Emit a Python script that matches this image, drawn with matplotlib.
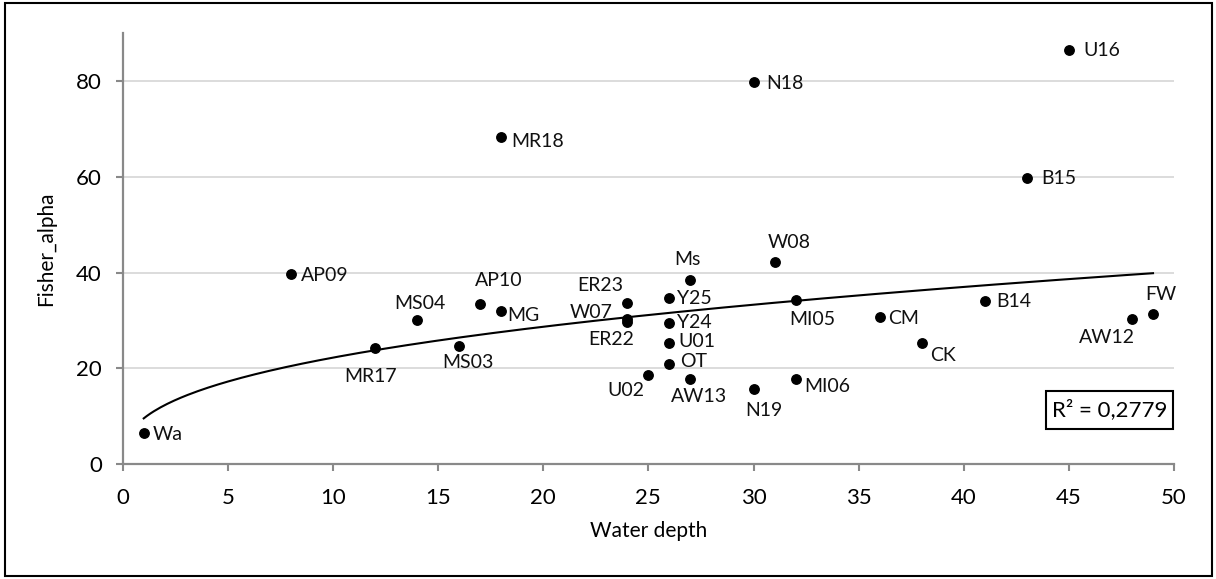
import numpy as np
import matplotlib
matplotlib.use('Agg')
import matplotlib.pyplot as plt
from matplotlib.patches import Rectangle

plt.rcParams['font.family'] = ['Lato', 'DejaVu Sans']

# sample stations
names = ['Wa', 'AP09', 'MR17', 'MS04', 'MS03', 'AP10', 'MG', 'MR18', 'ER23', 'W07',
         'ER22', 'U02', 'Y25', 'Y24', 'U01', 'OT', 'Ms', 'AW13', 'N18', 'N19',
         'W08', 'MI05', 'MI06', 'CM', 'CK', 'B14', 'B15', 'U16', 'AW12', 'FW']
depth = [1, 8, 12, 14, 16, 17, 18, 18, 24, 24,
         24, 25, 26, 26, 26, 26, 27, 27, 30, 30,
         31, 32, 32, 36, 38, 41, 43, 45, 48, 49]
alpha = [6.4, 39.6, 24.2, 30.1, 24.6, 33.5, 31.9, 68.3, 33.7, 30.2,
         29.6, 18.7, 34.7, 29.4, 25.3, 20.9, 38.5, 17.7, 79.8, 15.6,
         42.2, 34.2, 17.7, 30.7, 25.2, 34.1, 59.7, 86.6, 30.2, 31.4]
r2_text = 'R² = 0,2779'

# label placement: (dx px, dy px, ha)
label_pos = {
    'Wa': (9, -1, 'left'), 'AP09': (10, -1, 'left'), 'MR17': (-4, -28, 'center'),
    'MS04': (3, 16, 'center'), 'MS03': (9, -16, 'center'), 'AP10': (19, 23, 'center'),
    'MG': (6, -4, 'left'), 'MR18': (10, -4, 'left'), 'ER23': (-27, 17, 'center'),
    'W07': (-15, 7, 'right'), 'ER22': (-16, -17, 'center'), 'U02': (-22, -16, 'center'),
    'Y25': (8, -1, 'left'), 'Y24': (8, 1, 'left'), 'U01': (9, 1, 'left'),
    'OT': (11, 2, 'left'), 'Ms': (-3, 20, 'center'), 'AW13': (9, -17, 'center'),
    'N18': (13, -1, 'left'), 'N19': (10, -21, 'center'), 'W08': (15, 20, 'center'),
    'MI05': (17, -19, 'center'), 'MI06': (9, -7, 'left'), 'CM': (8, -1, 'left'),
    'CK': (8, -12, 'left'), 'B14': (11, -1, 'left'), 'B15': (14, 0, 'left'),
    'U16': (14, -1, 'left'), 'AW12': (-25, -18, 'center'), 'FW': (8, 19, 'center'),
}

fig = plt.figure(figsize=(12.16, 5.79), dpi=100)
ax = fig.add_axes([0.1009, 0.1986, 0.8646, 0.7439])

x = np.array(depth, dtype=float)
y = np.array(alpha, dtype=float)

# power trendline fitted on log-log
p, lnc = np.polyfit(np.log(x), np.log(y), 1)
xs = np.linspace(x.min(), x.max(), 300)
ax.plot(xs, np.exp(lnc) * xs ** p, color='black', lw=1.5, zorder=2)

ax.plot(x, y, 'o', color='black', markersize=6.8, zorder=3)

for n, xi, yi in zip(names, depth, alpha):
    dx, dy, ha = label_pos[n]
    ax.annotate(n, (xi, yi), xytext=(dx, dy), textcoords='offset pixels',
                ha=ha, va='center', fontsize=14, color='#111111', zorder=4)

ax.set_xlim(0, 50)
ax.set_ylim(0, 90)
ax.set_xticks(np.arange(0, 51, 5))
ax.set_yticks(np.arange(0, 81, 20))
ax.grid(axis='y', color='#d9d9d9', lw=1.3)
ax.set_axisbelow(True)
for s in ['top', 'right']:
    ax.spines[s].set_visible(False)
for s in ['left', 'bottom']:
    ax.spines[s].set_color('#898989')
    ax.spines[s].set_linewidth(1.6)
ax.tick_params(axis='x', length=5, width=1.5, color='#898989', pad=12, labelsize=16)
ax.tick_params(axis='y', length=5, width=1.5, color='#898989', pad=10, labelsize=16)

ax.set_xlabel('Water depth', fontsize=15)
ax.set_ylabel('Fisher_alpha', fontsize=15)
ax.xaxis.set_label_coords(0.5, -0.132)
ax.yaxis.set_label_coords(-0.063, 0.5)

# R² box
fig.patches.append(Rectangle((1046 / 1216, 1 - 429 / 579), 127 / 1216, 38 / 579,
                             transform=fig.transFigure, fill=False, ec='black', lw=1.5))
fig.text(1109.5 / 1216, 1 - 410 / 579, r2_text, ha='center', va='center', fontsize=16)

# outer frame
fig.patches.append(Rectangle((5 / 1216, 3 / 579), 1207 / 1216, 573 / 579,
                             transform=fig.transFigure, fill=False, ec='black', lw=1.5))

fig.savefig('out.png', dpi=100)
